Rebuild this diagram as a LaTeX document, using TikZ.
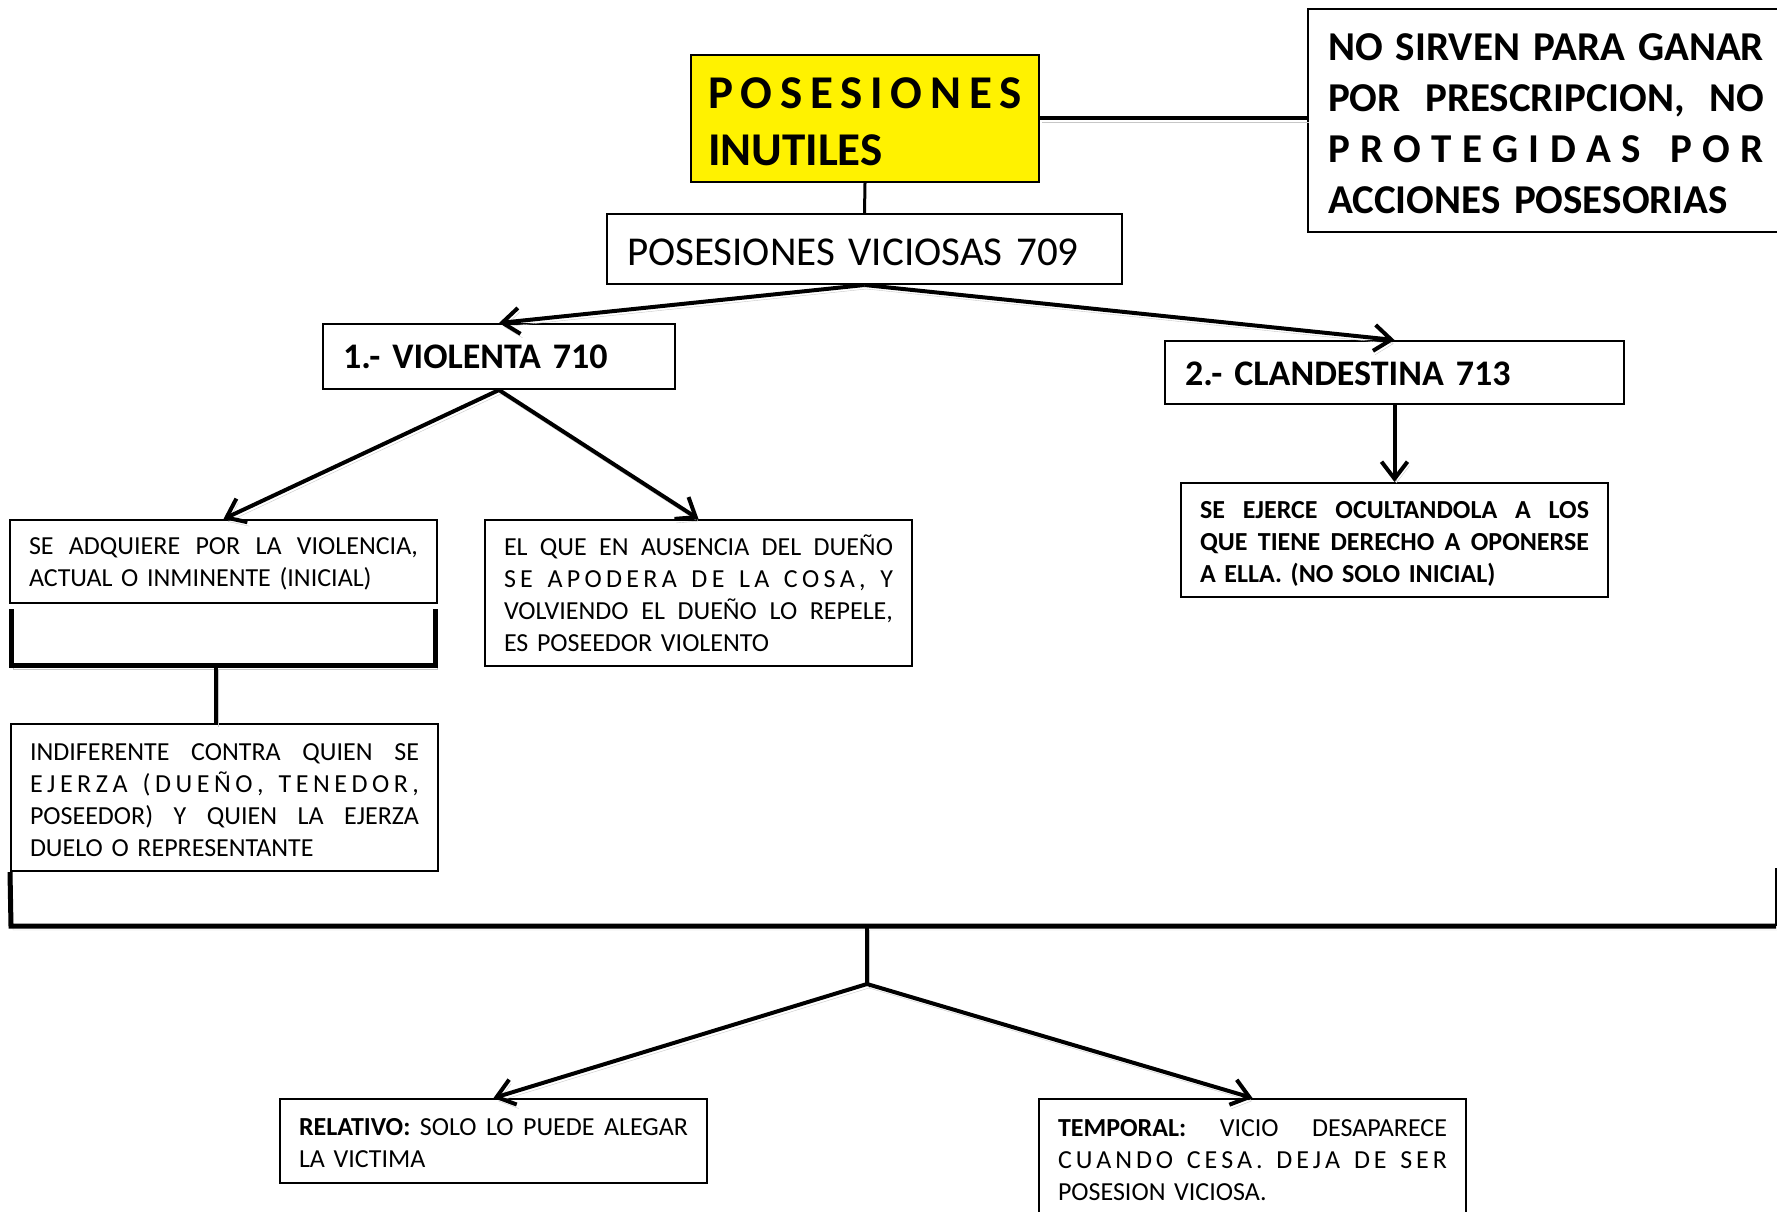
\documentclass[tikz,border=0pt]{standalone}
\usepackage{fontspec}
\setmainfont{Carlito}
\usetikzlibrary{arrows.meta,calc}
\ExplSyntaxOn
\NewDocumentCommand\spreadline{m}
 {
  \mode_leave_vertical:
  \hbox_to_wd:nn {\linewidth}
   {
    \seq_set_split:Nnn \l_tmpa_seq { ~ } {#1}
    \bool_set_true:N \l_tmpa_bool
    \seq_map_inline:Nn \l_tmpa_seq
     {
      \bool_if:NF \l_tmpa_bool { \hfil \hskip .23em \hfil }
      \bool_set_false:N \l_tmpa_bool
      \tl_map_inline:nn {##1} { ####1 \hfil }
      \unskip
     }
   }
 }
\ExplSyntaxOff
\newcommand{\jl}[1]{\leavevmode\hbox to\linewidth{\spaceskip=0pt\xspaceskip=0pt #1}}
\newcommand{\topstrut}[1]{\leavevmode\rule{0pt}{#1}}
\begin{document}
\begin{tikzpicture}[x=1pt,y=-1pt,
  boxbase/.style={draw=black,line width=2pt,rectangle,inner ysep=0pt,align=left,anchor=north west},
  smallbox/.style={boxbase,font=\fontsize{26}{32}\selectfont,inner xsep=19pt,text width=389pt,minimum width=427pt},
  shad/.style={preaction={draw=black!22,transform canvas={shift={(2pt,-4pt)}}}},
  conn/.style={line width=4pt,shad},
  arr/.style={line width=4pt,shad,-{Straight Barb[length=17pt,width=26pt]}},
  brk/.style={line width=5pt,line cap=butt,line join=miter,shad}]
\useasboundingbox (0,0) rectangle (1777,1212);
\clip (0,0) rectangle (1777,1212);
% boxes
\node[boxbase,fill=yellow,inner xsep=17pt,text width=314pt,minimum width=348pt,minimum height=127pt,font=\bfseries\fontsize{47}{57}\selectfont] (yel) at (690,54)
 {\topstrut{37pt}\spreadline{POSESIONES}\\INUTILES};
\node[boxbase,inner xsep=20pt,text width=436pt,minimum width=476pt,minimum height=223pt,font=\bfseries\fontsize{41}{51}\selectfont] (nos) at (1307,8)
 {\jl{\topstrut{33pt}NO SIRVEN PARA GANAR}\\\jl{POR PRESCRIPCION, NO}\\\spreadline{PROTEGIDAS POR}\\ACCIONES POSESORIAS};
\node[boxbase,inner xsep=20pt,text width=475pt,minimum width=515pt,minimum height=70pt,font=\fontsize{41}{50}\selectfont] (vic) at (606,213)
 {\topstrut{33pt}POSESIONES VICIOSAS 709};
\node[boxbase,inner xsep=20pt,text width=312pt,minimum width=352pt,minimum height=65pt,font=\bfseries\fontsize{36}{44}\selectfont] (vio) at (322,323)
 {1.- VIOLENTA 710};
\node[boxbase,inner xsep=20pt,text width=419pt,minimum width=459pt,minimum height=63pt,font=\bfseries\fontsize{36}{44}\selectfont] (cla) at (1164,340)
 {\topstrut{27pt}2.- CLANDESTINA 713};
\node[smallbox,minimum height=83pt] (adq) at (9,519)
 {\jl{\topstrut{22pt}SE ADQUIERE POR LA VIOLENCIA,}\\ACTUAL O INMINENTE (INICIAL)};
\node[smallbox,minimum height=146pt] (elq) at (484,519)
 {\jl{\topstrut{22pt}EL QUE EN AUSENCIA DEL DUEÑO}\\\spreadline{SE APODERA DE LA COSA, Y}\\\jl{VOLVIENDO EL DUEÑO LO REPELE,}\\ES POSEEDOR VIOLENTO};
\node[smallbox,minimum height=147pt] (ind) at (10,723)
 {\jl{\topstrut{22pt}INDIFERENTE CONTRA QUIEN SE}\\\spreadline{EJERZA (DUEÑO, TENEDOR,}\\\jl{POSEEDOR) Y QUIEN LA EJERZA}\\DUELO O REPRESENTANTE};
\node[smallbox,minimum height=114pt,font=\bfseries\fontsize{26}{32}\selectfont] (eje) at (1180,482)
 {\jl{\topstrut{25pt}SE EJERCE OCULTANDOLA A LOS}\\\jl{QUE TIENE DERECHO A OPONERSE}\\A ELLA. (NO SOLO INICIAL)};
\node[smallbox,minimum height=84pt] (rel) at (279,1098)
 {\jl{\topstrut{22pt}\textbf{RELATIVO:} SOLO LO PUEDE ALEGAR}\\LA VICTIMA};
\node[smallbox,minimum height=122pt] (tem) at (1038,1098)
 {\jl{\textbf{TEMPORAL:} VICIO DESAPARECE}\\\spreadline{CUANDO CESA. DEJA DE SER}\\POSESION VICIOSA.};
% connectors
\draw[conn] (yel.east) -- (yel.east -| nos.west);
\draw[line width=3pt] (yel.south) -- (vic.north);
\draw[arr] (vic.south) -- (vio.north);
\draw[arr] (vic.south) -- (cla.north);
\draw[arr] (vio.south) -- (adq.north);
\draw[arr] (vio.south) -- (elq.north);
\draw[arr] (cla.south) -- (eje.north);
% bracket under first box
\coordinate (b1a) at (11,609);
\coordinate (b1b) at (11,665);
\coordinate (b1c) at (435,665);
\coordinate (b1d) at (435,609);
\coordinate (b1m) at (216,665);
\draw[brk] (b1a) -- (b1b) -- (b1c) -- (b1d);
\draw[conn] (b1m) -- (b1m |- ind.north);
% big bracket
\coordinate (b2a) at (ind.south west);
\coordinate (b2b) at (11,926);
\coordinate (b2c) at (1776,926);
\coordinate (b2d) at (1776,868);
\coordinate (b2m) at (867,926);
\coordinate (split) at (867,984);
\draw[brk] (b2a) -- (b2b) -- (b2c);
\draw[line width=2pt] (b2c) -- (b2d);
\draw[conn] (b2m) -- (split);
\draw[arr] (split) -- (rel.north);
\draw[arr] (split) -- (tem.north);
\end{tikzpicture}
\end{document}
